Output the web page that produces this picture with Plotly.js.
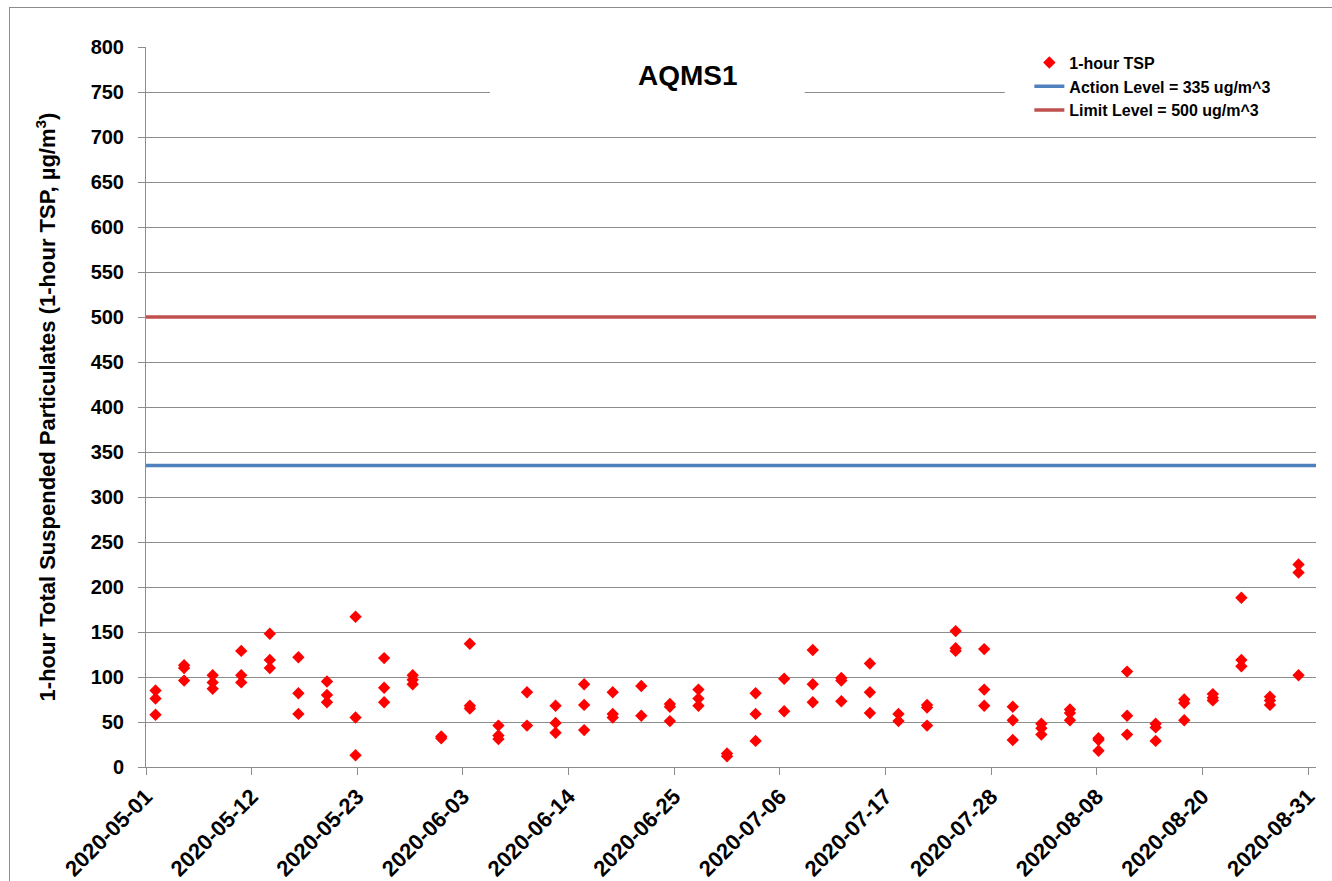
<!DOCTYPE html>
<html>
<head>
<meta charset="utf-8">
<script src="https://cdn.plot.ly/plotly-3.0.1.min.js"></script>
<style>
  html, body { margin: 0; padding: 0; background: #fff; overflow: hidden; }
  #chart { position: absolute; left: 0; top: 0; width: 1332px; height: 881px; }
  #frame { position: absolute; left: 9px; top: 7px; width: 1400px; height: 1000px;
           border-left: 1px solid #8c8c8c; border-top: 1px solid #8c8c8c; pointer-events: none; }
</style>
</head>
<body>
<div id="chart"></div>
<div id="frame"></div>
<script>
// ---- data ----
const sampleDates = [
  '2020-05-02','2020-05-05','2020-05-08','2020-05-11','2020-05-14','2020-05-17','2020-05-20',
  '2020-05-23','2020-05-26','2020-05-29','2020-06-01','2020-06-04','2020-06-07','2020-06-10',
  '2020-06-13','2020-06-16','2020-06-19','2020-06-22','2020-06-25','2020-06-28','2020-07-01',
  '2020-07-04','2020-07-07','2020-07-10','2020-07-13','2020-07-16','2020-07-19','2020-07-22',
  '2020-07-25','2020-07-28','2020-07-31','2020-08-03','2020-08-06','2020-08-09','2020-08-12',
  '2020-08-15','2020-08-18','2020-08-21','2020-08-24','2020-08-27','2020-08-30'
];
const tspReadingA = [85,113,102,129,148,122,95,167,121,102,34,137,46,83,68,92,83,90,70,86,15,
                     82,98,130,99,115,59,69,151,131,67,48,64,32,106,48,75,81,188,78,225];
const tspReadingB = [76,110,94,102,119,82,80,55,88,97,32,68,35,46,49,69,59,57,67,76,12,
                     59,62,92,96,83,51,66,132,86,52,43,60,30,57,44,71,77,119,74,216];
const tspReadingC = [58,96,87,94,110,59,72,13,72,92,null,65,31,null,38,41,55,null,51,68,null,
                     29,null,72,73,60,null,46,129,68,30,36,52,18,36,29,52,74,112,69,102];

const actionLevel = 335;
const limitLevel = 500;
const axisStart = '2020-05-01';
const axisLastTick = '2020-08-31';
const axisEnd = '2020-08-31 20:00';
const xTickLabels = ['2020-05-01','2020-05-12','2020-05-23','2020-06-03','2020-06-14','2020-06-25',
                     '2020-07-06','2020-07-17','2020-07-28','2020-08-08','2020-08-20','2020-08-31'];
const yTickValues = [0,50,100,150,200,250,300,350,400,450,500,550,600,650,700,750,800];

// ---- build traces ----
const tspX = [], tspY = [];
[tspReadingA, tspReadingB, tspReadingC].forEach(series => {
  series.forEach((v, i) => { if (v !== null) { tspX.push(sampleDates[i]); tspY.push(v); } });
});

// evenly spaced tick positions from first to last label
const t0 = Date.parse(axisStart + 'T00:00:00Z');
const t1 = Date.parse(axisLastTick + 'T00:00:00Z');
const tickVals = xTickLabels.map((_, k) => {
  const d = new Date(t0 + (t1 - t0) * k / (xTickLabels.length - 1));
  return d.toISOString().replace('T', ' ').replace('Z', '');
});

const FONT = 'Liberation Sans, Arial, sans-serif';

const traces = [
  {
    type: 'scatter', mode: 'markers', name: '1-hour TSP',
    x: tspX, y: tspY,
    marker: { symbol: 'diamond', size: 9.5, color: '#ff0000', line: { width: 0 } },
    hoverinfo: 'x+y'
  },
  {
    type: 'scatter', mode: 'lines', name: 'Action Level = 335 ug/m^3',
    x: [axisStart, axisEnd], y: [actionLevel, actionLevel],
    line: { color: '#4f81bd', width: 3.5 }
  },
  {
    type: 'scatter', mode: 'lines', name: 'Limit Level = 500 ug/m^3',
    x: [axisStart, axisEnd], y: [limitLevel, limitLevel],
    line: { color: '#c0504d', width: 3.5 }
  }
];

const layout = {
  width: 1332, height: 881,
  margin: { l: 146, r: 16, t: 47, b: 114 },
  paper_bgcolor: '#ffffff', plot_bgcolor: '#ffffff',
  font: { family: FONT, color: '#000000' },
  title: {
    text: 'AQMS1',
    font: { family: FONT, size: 28, weight: 700, color: '#000000' },
    xref: 'paper', x: 0.463, xanchor: 'center',
    yref: 'container', y: 0.915, yanchor: 'middle'
  },
  xaxis: {
    type: 'date',
    range: [axisStart, axisEnd],
    tickmode: 'array', tickvals: tickVals, ticktext: xTickLabels,
    tickangle: -45,
    tickfont: { family: FONT, size: 22, weight: 700, color: '#000000' },
    showgrid: false, zeroline: false,
    showline: true, linecolor: '#8c8c8c', linewidth: 1,
    ticks: 'outside', ticklen: 7, tickcolor: '#8c8c8c', tickwidth: 1
  },
  yaxis: {
    range: [0, 800],
    tickmode: 'array', tickvals: yTickValues,
    tickfont: { family: FONT, size: 20, weight: 700, color: '#000000' },
    ticklabelstandoff: 10,
    showgrid: true, gridcolor: '#8c8c8c', gridwidth: 1,
    zeroline: false,
    showline: true, linecolor: '#8c8c8c', linewidth: 1,
    ticks: 'outside', ticklen: 7, tickcolor: '#8c8c8c', tickwidth: 1,
    title: {
      text: '1-hour Total Suspended Particulates (1-hour TSP, µg/m<sup>3</sup>)',
      font: { family: FONT, size: 22, weight: 700, color: '#000000' },
      standoff: 28
    }
  },
  legend: {
    x: 0.755, xanchor: 'left', y: 1.002, yanchor: 'top',
    bgcolor: 'rgba(255,255,255,0)',
    font: { family: FONT, size: 16, weight: 700, color: '#000000' },
    tracegroupgap: 0, itemwidth: 30
  },
  shapes: [
    { type: 'rect', xref: 'paper', yref: 'paper', x0: 0.294, x1: 0.563, y0: 0.906, y1: 0.99,
      fillcolor: '#ffffff', line: { width: 0 }, layer: 'above' },
    { type: 'rect', xref: 'paper', yref: 'paper', x0: 0.734, x1: 1.0, y0: 0.899, y1: 0.99,
      fillcolor: '#ffffff', line: { width: 0 }, layer: 'above' }
  ],
  showlegend: true
};

Plotly.newPlot('chart', traces, layout, { displayModeBar: false, staticPlot: true });
</script>
</body>
</html>
